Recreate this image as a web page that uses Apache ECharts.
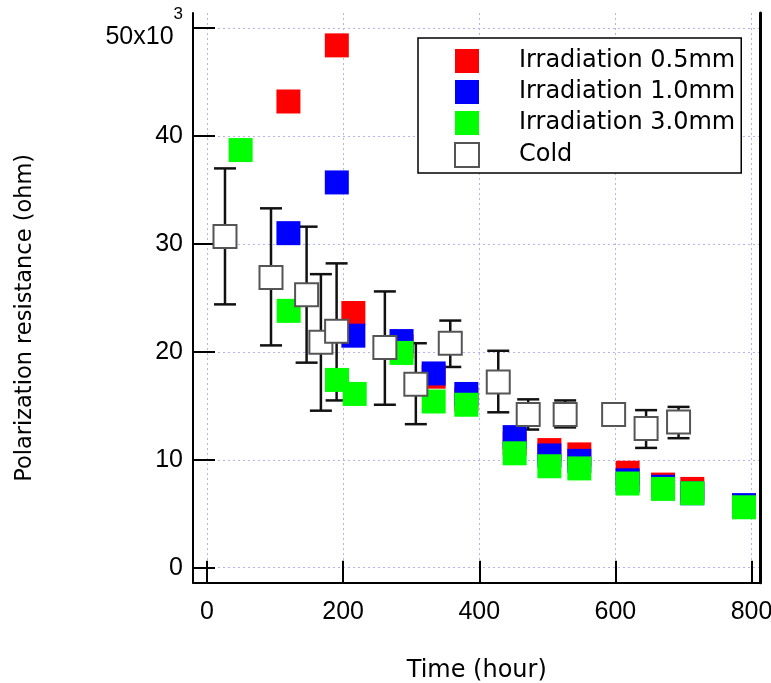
<!DOCTYPE html>
<html>
<head>
<meta charset="utf-8">
<script src="https://cdn.jsdelivr.net/npm/echarts@6/dist/echarts.min.js"></script>
<style>
  html, body { margin: 0; padding: 0; background: #fff; }
  #chart { width: 771px; height: 683px; }
</style>
</head>
<body>
<div id="chart"></div>
<script>
// time (hour), resistance (x10^3 ohm)
const red05 = [
    [119.6, 43.2], [190.7, 48.4], [215, 23.6], [285.8, 20.5], [333, 17.7], [381, 15.6],
    [452, 11.5], [503, 10.9], [547, 10.5], [618, 8.8], [670, 7.7], [713, 7.3], [789, 5.7]
]
const blue10 = [
    [119.6, 31.0], [190.7, 35.7], [215, 21.5], [285.8, 21.0], [333, 18.0], [381, 16.1],
    [452, 12.1], [503, 10.4], [547, 9.9], [618, 8.1], [670, 7.5], [713, 6.9], [789, 5.8]
]
const green30 = [
    [49.4, 38.7], [120, 23.8], [191, 17.4], [217, 16.1], [285.8, 19.9], [333, 15.4], [381, 15.1],
    [452, 10.6], [503, 9.4], [547, 9.2], [618, 7.8], [670, 7.3], [713, 6.9], [789, 5.6]
]
const coldX = [26.4, 94, 146.3, 167.3, 190.4, 261.3, 306.8, 357.4, 427.9, 471.9, 526.2, 597.4, 645.1, 692.8]
const coldY = [30.7, 26.9, 25.3, 20.9, 21.9, 20.4, 17.0, 20.8, 17.2, 14.2, 14.2, 14.2, 12.9, 13.5]
const coldLow = [24.4, 20.6, 19.0, 14.55, 15.5, 15.1, 13.3, 18.6, 14.4, 12.8, 13.0, 13.6, 11.1, 12.0]
const coldHigh = [37.0, 33.3, 31.6, 27.2, 28.2, 25.6, 20.8, 22.9, 20.1, 15.6, 15.5, 14.8, 14.6, 14.9]
const xTicks = [0, 200, 400, 600, 800]
const yTicks = [0, 10, 20, 30, 40, 50]
const seriesNames = ['Irradiation 0.5mm', 'Irradiation 1.0mm', 'Irradiation 3.0mm', 'Cold']

const font = 'DejaVu Sans'
const numFont = 'Liberation Sans'
const gridLine = {show: true, lineStyle: {color: '#b4b4f0', type: [2, 3], width: 1}}

const coldPoints = coldX.map((x, i) => [x, coldY[i]])
const coldBars = coldX.map((x, i) => [x, coldLow[i], coldHigh[i]])

const chart = echarts.init(document.getElementById('chart'))

const squares = (name, color, data) => {
    return {
        name: name,
        type: 'scatter',
        symbol: 'rect',
        symbolSize: 24,
        itemStyle: {color: color, opacity: 1},
        emphasis: {disabled: true},
        data: data
    }
}

const option = {
    animation: false,
    backgroundColor: '#fff',
    grid: {left: 193, right: 10.5, top: 13, bottom: 100.3, outerBoundsMode: 'none'},
    legend: {
        data: seriesNames,
        orient: 'vertical',
        left: 418,
        top: 38,
        padding: [11, 6, 5, 36],
        itemGap: 7,
        itemWidth: 24,
        itemHeight: 24,
        backgroundColor: '#fff',
        borderColor: '#000',
        borderWidth: 1.5,
        textStyle: {fontFamily: font, fontSize: 24, color: '#000', padding: [0, 0, 0, 35]}
    },
    xAxis: {
        type: 'value',
        min: -20.6,
        max: 813.2,
        name: 'Time (hour)',
        nameLocation: 'middle',
        nameGap: 76,
        nameTextStyle: {fontFamily: font, fontSize: 24, color: '#000'},
        axisLine: {onZero: false, lineStyle: {color: '#000', width: 2}},
        axisTick: {inside: true, length: 22, customValues: xTicks, lineStyle: {color: '#000', width: 2}},
        axisLabel: {customValues: xTicks, margin: 17, fontFamily: numFont, fontSize: 25, color: '#000'},
        splitLine: gridLine
    },
    yAxis: [
        {
            type: 'value',
            min: -1.39,
            max: 51.4,
            name: 'Polarization resistance (ohm)',
            nameLocation: 'middle',
            nameGap: 156,
            nameTextStyle: {fontFamily: font, fontSize: 22.5, color: '#000', padding: [0, 40, 0, 0]},
            axisLine: {show: true, onZero: false, lineStyle: {color: '#000', width: 2}},
            axisTick: {show: true, inside: true, length: 22, customValues: yTicks, lineStyle: {color: '#000', width: 2}},
            axisLabel: {
                customValues: yTicks,
                margin: 10,
                fontFamily: numFont,
                fontSize: 25,
                color: '#000',
                formatter: (v) => v === 50 ? '{a|50x10}{s|3}' : String(v),
                rich: {
                    a: {fontFamily: numFont, fontSize: 25, color: '#000', padding: [19, 0, 0, 0]},
                    s: {fontFamily: numFont, fontSize: 17, color: '#000', verticalAlign: 'top'}
                }
            },
            splitLine: gridLine
        },
        {
            type: 'value',
            position: 'right',
            min: -1.39,
            max: 51.4,
            axisLine: {show: true, onZero: false, lineStyle: {color: '#000', width: 3}},
            axisTick: {show: false},
            axisLabel: {show: false},
            splitLine: {show: false}
        }
    ],
    series: [
        squares(seriesNames[0], '#ff0000', red05),
        squares(seriesNames[1], '#0000ff', blue10),
        squares(seriesNames[2], '#00ff00', green30),
        {
            name: 'coldError',
            type: 'custom',
            silent: true,
            data: coldBars,
            renderItem: (params, api) => {
                const lo = api.coord([api.value(0), api.value(1)])
                const hi = api.coord([api.value(0), api.value(2)])
                const half = 11
                const style = {stroke: '#111', lineWidth: 2.5}
                return {
                    type: 'group',
                    children: [
                        {type: 'line', shape: {x1: lo[0], y1: lo[1], x2: hi[0], y2: hi[1]}, style: style},
                        {type: 'line', shape: {x1: lo[0] - half, y1: lo[1], x2: lo[0] + half, y2: lo[1]}, style: style},
                        {type: 'line', shape: {x1: hi[0] - half, y1: hi[1], x2: hi[0] + half, y2: hi[1]}, style: style}
                    ]
                }
            }
        },
        {
            name: seriesNames[3],
            type: 'scatter',
            symbol: 'rect',
            symbolSize: 23,
            itemStyle: {color: '#fff', borderColor: '#555', borderWidth: 2, opacity: 1},
            emphasis: {disabled: true},
            data: coldPoints
        }
    ]
}

chart.setOption(option)
</script>
</body>
</html>
